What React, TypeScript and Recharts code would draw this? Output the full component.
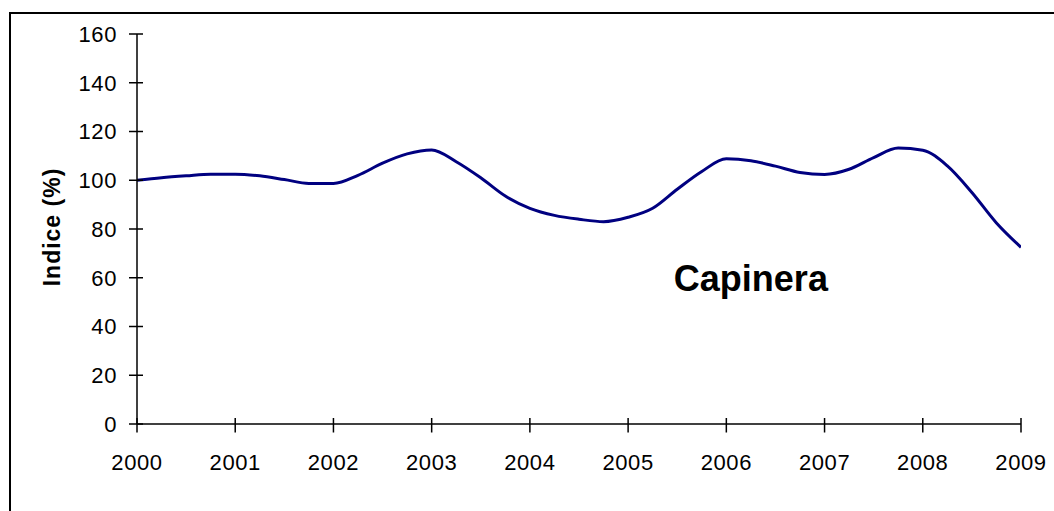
import React from 'react';
import { LineChart, Line, XAxis, YAxis, ReferenceDot, Label } from 'recharts';

const quarters = [
  2000, 2000.25, 2000.5, 2000.75,
  2001, 2001.25, 2001.5, 2001.75,
  2002, 2002.25, 2002.5, 2002.75,
  2003, 2003.25, 2003.5, 2003.75,
  2004, 2004.25, 2004.5, 2004.75,
  2005, 2005.25, 2005.5, 2005.75,
  2006, 2006.25, 2006.5, 2006.75,
  2007, 2007.25, 2007.5, 2007.75,
  2008, 2008.25, 2008.5, 2008.75,
  2009,
];

const indice = [
  100, 101, 101.8, 102.5,
  102.5, 101.8, 100.3, 98.7,
  98.7, 102, 107, 110.8,
  112.4, 107.6, 101, 93.5,
  88.5, 85.6, 84, 83,
  84.8, 88.5, 96.3, 103.6,
  108.8, 108, 105.8, 103.2,
  102.4, 104.5, 109.3, 113.2,
  112.3, 105.9, 95, 82.5,
  72.5,
];

const yearTicks = [2000, 2001, 2002, 2003, 2004, 2005, 2006, 2007, 2008, 2009];
const valueTicks = [0, 20, 40, 60, 80, 100, 120, 140, 160];

const seriesName = 'Capinera';
const yTitle = 'Indice (%)';

const data = quarters.map((q, i) => ({ year: q, value: indice[i] }));

const FONT = '"Liberation Sans", Arial, sans-serif';

const YTick = (props: any) => {
  const { x, y, payload } = props;
  return (
    <g>
      <line x1={x - 8} x2={x + 6} y1={y} y2={y} stroke="#000" strokeWidth={1.5} />
      <text x={x - 20} y={y} dy="0.36em" textAnchor="end" fontSize={22} letterSpacing={0.6} fill="#000" fontFamily={FONT}>
        {payload.value}
      </text>
    </g>
  );
};

const XTick = (props: any) => {
  const { x, y, payload } = props;
  return (
    <g>
      <line x1={x} x2={x} y1={y - 6} y2={y + 8.5} stroke="#000" strokeWidth={1.5} />
      <text x={x} y={y + 46} textAnchor="middle" fontSize={22} letterSpacing={0.6} fill="#000" fontFamily={FONT}>
        {payload.value}
      </text>
    </g>
  );
};

export default function App() {
  return (
    <div style={{ position: 'relative', width: 1054, height: 511, overflow: 'hidden', background: '#fff', fontFamily: FONT }}>
      <style>{`html,body{margin:0;padding:0;overflow:hidden;background:#fff}`}</style>
      <div
        style={{
          position: 'absolute',
          left: 9,
          top: 12,
          width: 1200,
          height: 700,
          border: '2px solid #000',
          boxSizing: 'border-box',
        }}
      />
      <div style={{ position: 'absolute', left: 0, top: 0 }}>
        <LineChart width={1054} height={511} data={data} margin={{ top: 34, right: 33, bottom: 27, left: 0 }}>
          <XAxis
            dataKey="year"
            type="number"
            domain={[2000, 2009]}
            ticks={yearTicks}
            interval={0}
            tickSize={0}
            tickMargin={0}
            tickLine={false}
            axisLine={{ stroke: '#000', strokeWidth: 1.5 }}
            tick={<XTick />}
            height={60}
            allowDataOverflow
          />
          <YAxis
            type="number"
            domain={[0, 160]}
            ticks={valueTicks}
            interval={0}
            tickSize={0}
            tickMargin={0}
            tickLine={false}
            axisLine={{ stroke: '#000', strokeWidth: 1.5 }}
            tick={<YTick />}
            width={137}
          >
            <Label
              value={yTitle}
              angle={-90}
              position="center"
              dx={-17}
              dy={-2}
              style={{ fontSize: 23, fontWeight: 'bold', fill: '#000', letterSpacing: 1, fontFamily: FONT }}
            />
          </YAxis>
          <Line
            type="monotone"
            dataKey="value"
            stroke="#000080"
            strokeWidth={3}
            dot={false}
            activeDot={false}
            isAnimationActive={false}
          />
          <ReferenceDot x={2006.25} y={60} r={0} stroke="none" fill="none" ifOverflow="visible">
            <Label
              value={seriesName}
              position="center"
              style={{ fontSize: 36, fontWeight: 'bold', fill: '#000', fontFamily: FONT }}
            />
          </ReferenceDot>
        </LineChart>
      </div>
    </div>
  );
}
